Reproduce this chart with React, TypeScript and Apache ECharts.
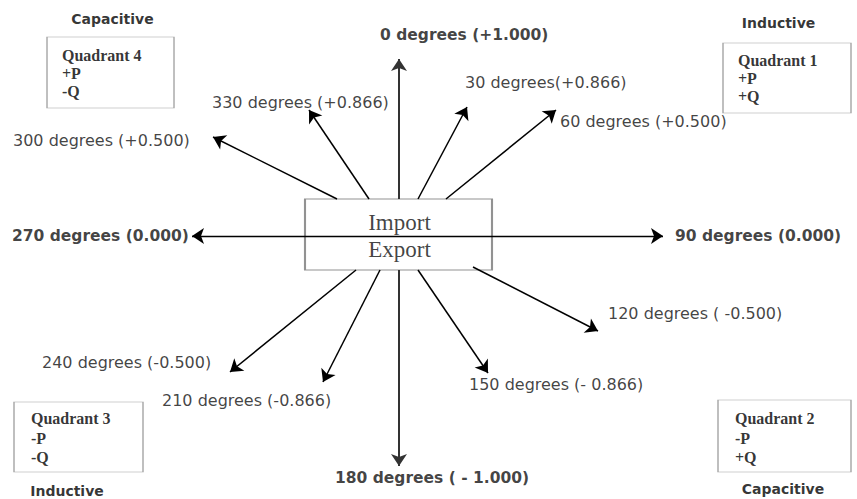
import React, { useEffect, useRef } from "react";
import * as echarts from "echarts";

// Diagram coordinates: origin at the centre of the Import/Export box, 1 unit = 1 px, y pointing up.
const X_MIN = -399;
const X_MAX = 458;
const Y_MIN = -263;
const Y_MAX = 236;

const phaseAngles = [0, 30, 60, 90, 120, 150, 180, 210, 240, 270, 300, 330];
const phaseLabels = [
  "0 degrees (+1.000)",
  "30 degrees(+0.866)",
  "60 degrees (+0.500)",
  "90 degrees (0.000)",
  "120 degrees ( -0.500)",
  "150 degrees (- 0.866)",
  "180 degrees ( - 1.000)",
  "210 degrees (-0.866)",
  "240 degrees (-0.500)",
  "270 degrees (0.000)",
  "300 degrees (+0.500)",
  "330 degrees (+0.866)",
];
const arrowTails: number[][] = [
  [0, 37], [19, 37], [47, 37], [0, 0], [74, -31], [19, -34],
  [0, -34], [-19, -34], [-43, -34], [0, 0], [-62, 37], [-30, 37],
];
const arrowTips: number[][] = [
  [0, 177], [68, 129], [157, 126], [264, 0], [199, -95], [89, -137],
  [0, -230], [-76, -146], [-169, -136], [-207, 0], [-186, 99], [-90, 126],
];
const labelPoints: number[][] = [
  [-19, 201], [66, 154], [161, 115], [276, 0], [209, -77], [70, -148.5],
  [-64, -242], [-237, -164], [-357, -126], [-387, 0], [-386, 96], [-187, 133.5],
];

const quadrantNames = ["Quadrant 1", "Quadrant 2", "Quadrant 3", "Quadrant 4"];
const quadrantP = ["+P", "-P", "-P", "+P"];
const quadrantQ = ["+Q", "+Q", "-Q", "-Q"];
const quadrantLoad = ["Inductive", "Capacitive", "Inductive", "Capacitive"];
const quadrantBoxCentres: number[][] = [[388, 158], [385.5, -200], [-320.5, -201], [-288.5, 163.5]];
const quadrantBoxSizes: number[][] = [[128, 70], [133, 72], [129, 70], [127, 71]];
const quadrantTextPoints: number[][] = [[339, 175.5], [336, -182.7], [-368, -182.7], [-337, 181]];
const quadrantLoadPoints: number[][] = [[379.5, 213.5], [384, -253], [-332, -255], [-286.5, 217.3]];

const centreWords = ["Import", "Export"];
const centreWordPoints: number[][] = [[0.5, 13.5], [0.5, -13.5]];
const centreBox: number[] = [-0.5, 1.5];
const centreBoxSize: number[] = [187, 71];

const ARROW = 12;
const SANS = "'DejaVu Sans', Verdana, sans-serif";
const SERIF = "'Liberation Serif', 'Times New Roman', serif";

export default function App() {
  const ref = useRef<HTMLDivElement>(null);

  useEffect(() => {
    if (!ref.current) return;
    const chart = echarts.init(ref.current, undefined, { renderer: "svg" });

    const boxData: any[] = quadrantBoxCentres.map((c, i) => ({
      value: c,
      symbolSize: quadrantBoxSizes[i],
      itemStyle: { color: "#ffffff", borderColor: "#8a8a8a", borderWidth: 1 },
    }));
    boxData.push({
      value: centreBox,
      symbolSize: centreBoxSize,
      itemStyle: { color: "#ffffff", borderColor: "#777777", borderWidth: 1.3 },
    });

    const arrowData = phaseAngles.map((a, i) => {
      const vertical = a === 0 || a === 180;
      const horizontal = a === 90 || a === 270;
      return {
        name: phaseLabels[i],
        coords: [arrowTails[i], arrowTips[i]],
        lineStyle: {
          color: vertical ? "#333333" : "#000000",
          width: vertical ? 2 : horizontal ? 1.3 : 1.5,
          opacity: 1,
          type: "solid",
        },
      };
    });

    const phaseLabelData = phaseAngles.map((a, i) => {
      const main = a % 90 === 0;
      return {
        name: phaseLabels[i],
        value: labelPoints[i],
        label: {
          fontWeight: main ? "bold" : "normal",
          fontSize: main ? 15.5 : 16,
        },
      };
    });

    const quadrantTextData = quadrantNames.map((n, i) => {
      const lh = quadrantTextPoints[i][1] > 0 ? 18 : 19.4;
      return {
        name: n + "\n" + quadrantP[i] + "\n" + quadrantQ[i],
        value: [quadrantTextPoints[i][0], quadrantTextPoints[i][1] + lh / 2],
        label: { lineHeight: lh },
      };
    });

    const loadData = quadrantLoad.map((n, i) => ({ name: n, value: quadrantLoadPoints[i] }));
    const centreData = centreWords.map((n, i) => ({ name: n, value: centreWordPoints[i] }));

    const textSeries = (data: any[], label: any, z: number) => ({
      type: "scatter",
      data,
      symbol: "circle",
      symbolSize: 0.1,
      itemStyle: { color: "rgba(0,0,0,0)" },
      silent: true,
      clip: false,
      z,
      emphasis: { disabled: true },
      label: Object.assign(
        { show: true, position: "inside", formatter: "{b}", distance: 0 },
        label
      ),
    });

    chart.setOption({
      animation: false,
      backgroundColor: "#ffffff",
      grid: { left: 0, right: 0, top: 0, bottom: 0, containLabel: false },
      xAxis: { type: "value", min: X_MIN, max: X_MAX, show: false },
      yAxis: { type: "value", min: Y_MIN, max: Y_MAX, show: false },
      tooltip: { show: false },
      series: [
        {
          type: "scatter",
          data: boxData,
          symbol: "rect",
          silent: true,
          clip: false,
          z: 1,
          emphasis: { disabled: true },
        },
        {
          type: "lines",
          coordinateSystem: "cartesian2d",
          data: arrowData,
          symbol: ["none", "arrow"],
          symbolSize: ARROW,
          silent: true,
          z: 3,
          emphasis: { disabled: true },
        },
        textSeries(
          phaseLabelData,
          { align: "left", verticalAlign: "middle", color: "#111111", fontFamily: SANS },
          4
        ),
        textSeries(
          quadrantTextData,
          {
            align: "left",
            verticalAlign: "top",
            color: "#000000",
            fontFamily: SERIF,
            fontWeight: "bold",
            fontSize: 16,
          },
          4
        ),
        textSeries(
          loadData,
          {
            align: "center",
            verticalAlign: "middle",
            color: "#000000",
            fontFamily: SANS,
            fontWeight: "bold",
            fontSize: 14,
          },
          4
        ),
        textSeries(
          centreData,
          {
            align: "center",
            verticalAlign: "middle",
            color: "#111111",
            fontFamily: SERIF,
            fontSize: 23,
          },
          4
        ),
      ],
    });

    return () => chart.dispose();
  }, []);

  return (
    <div
      ref={ref}
      style={{ position: "absolute", left: 0, top: 0, width: 857, height: 499, background: "#ffffff" }}
    />
  );
}
